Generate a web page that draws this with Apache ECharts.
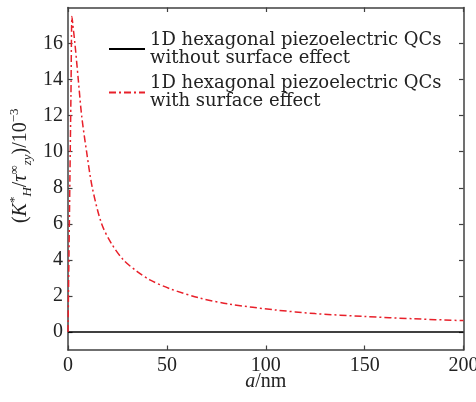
<!DOCTYPE html>
<html><head><meta charset="utf-8">
<script src="https://cdn.jsdelivr.net/npm/echarts@6/dist/echarts.min.js"></script>
<style>html,body{margin:0;padding:0;background:#fff}#c{width:476px;height:402px}</style>
</head><body><div id="c"></div>
<script>
// a (nm) sample positions and values
const aWith = [0, 0.5, 1, 1.5, 2, 2.5, 3.5, 5.2, 6.9, 9.4, 12.3, 17, 22, 28, 35, 41.4, 51.5, 66.7, 81.9, 105, 125, 150, 175, 200];
const kWith = [0, 4.4, 8.8, 13.2, 17.5, 17.0, 16.0, 14.0, 12.0, 10.0, 8.0, 6.0, 4.9, 4.0, 3.35, 2.89, 2.40, 1.88, 1.54, 1.22, 1.02, 0.86, 0.73, 0.63];
const aWithout = [0, 200];
const kWithout = [0, 0];
const xTicks = [0, 50, 100, 150, 200];
const yTicks = [0, 2, 4, 6, 8, 10, 12, 14, 16];
const seriesNames = ['1D hexagonal piezoelectric QCs\nwithout surface effect', '1D hexagonal piezoelectric QCs\nwith surface effect'];

const FONT = 'Liberation Serif';
const LFONT = 'DejaVu Serif';
const axisCol = '#404040';
const zip = (xs, ys) => xs.map((x, i) => [x, ys[i]]);

const baseX = {
  type: 'value', min: 0, max: 200,
  axisLine: {show: true, onZero: false, lineStyle: {color: axisCol, width: 1.5}},
  axisTick: {show: true, inside: true, length: 4.5, customValues: xTicks, lineStyle: {color: axisCol, width: 1.2}},
  splitLine: {show: false}
};
const baseY = {
  type: 'value', min: -1, max: 18,
  axisLine: {show: true, onZero: false, lineStyle: {color: axisCol, width: 1.5}},
  axisTick: {show: true, inside: true, length: 4.5, customValues: yTicks, lineStyle: {color: axisCol, width: 1.2}},
  splitLine: {show: false}
};

const chart = echarts.init(document.getElementById('c'));
chart.setOption({
  animation: false,
  backgroundColor: '#fff',
  grid: {left: 68, right: 12.5, top: 7.5, bottom: 52, outerBoundsMode: 'none', containLabel: false},
  legend: {
    left: 103, top: 26, orient: 'vertical', itemWidth: 36, itemHeight: 14, itemGap: 7.5,
    data: seriesNames,
    itemStyle: {opacity: 0},
    textStyle: {fontFamily: LFONT, fontSize: 18, lineHeight: 18, color: '#222'}
  },
  xAxis: [
    Object.assign({}, baseX, {
      position: 'bottom',
      axisLabel: {show: true, margin: 6, customValues: xTicks, fontFamily: FONT, fontSize: 20, color: '#222'},
      name: '{i|a}/nm', nameLocation: 'middle', nameGap: 22, nameMoveOverlap: false,
      nameTextStyle: {fontFamily: FONT, fontSize: 20, color: '#222', rich: {i: {fontStyle: 'italic', fontFamily: FONT, fontSize: 20}}}
    }),
    Object.assign({}, baseX, {position: 'top', axisLabel: {show: false}})
  ],
  yAxis: [
    Object.assign({}, baseY, {
      position: 'left',
      axisLabel: {show: true, margin: 5, customValues: yTicks, fontFamily: FONT, fontSize: 20, color: '#222'},
      name: '({i|K}{sup|*}{sub|H}/{i|τ}{sup|∞}{sub|zy})/10{sup|−3}',
      nameLocation: 'middle', nameRotate: 90, nameGap: 34, nameMoveOverlap: false,
      nameTextStyle: {
        fontFamily: FONT, fontSize: 20, lineHeight: 26, color: '#222', padding: [0, 0, 0, 26],
        rich: {
          i: {fontStyle: 'italic', fontFamily: FONT, fontSize: 20, lineHeight: 26},
          sup: {fontFamily: FONT, fontSize: 13, lineHeight: 13, verticalAlign: 'top'},
          sub: {fontFamily: FONT, fontStyle: 'italic', fontSize: 13, lineHeight: 13, verticalAlign: 'bottom'}
        }
      }
    }),
    Object.assign({}, baseY, {position: 'right', axisLabel: {show: false}})
  ],
  series: [
    {
      name: seriesNames[0], type: 'line', data: zip(aWithout, kWithout),
      showSymbol: false, symbol: 'none', color: '#000',
      lineStyle: {color: '#000', width: 1.5, type: 'solid'}
    },
    {
      name: seriesNames[1], type: 'line', data: zip(aWith, kWith), smooth: 0.3,
      showSymbol: false, symbol: 'none', color: '#e8202a',
      lineStyle: {color: '#e8202a', width: 1.5, type: [7, 3, 2, 3]}
    }
  ]
});
</script></body></html>
